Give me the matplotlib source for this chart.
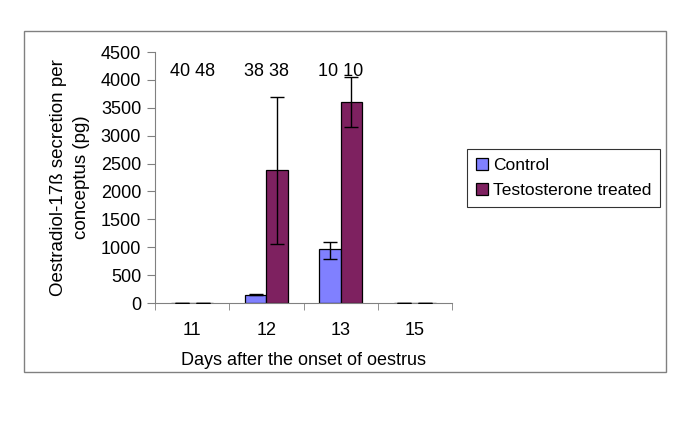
import numpy as np
import matplotlib.pyplot as plt
from matplotlib.patches import Rectangle

plt.rcParams['font.family'] = ['Liberation Sans', 'DejaVu Sans']

days = ['11', '12', '13', '15']
control = [0, 150, 960, 0]
control_err_lo = [0, 15, 170, 0]
control_err_hi = [0, 20, 140, 0]
treated = [0, 2380, 3600, 0]
treated_err_lo = [0, 1330, 440, 0]
treated_err_hi = [0, 1320, 450, 0]
n_control = ['40', '38', '10', '']
n_treated = ['48', '38', '10', '']

fs = 13

fig = plt.figure(figsize=(6.85, 4.26), dpi=100)
ax = fig.add_axes([155/685, 1 - 303/426, 297/685, 251/426])

# outer frame round the chart
fig.patches.append(Rectangle((24/685, 1 - 372/426), 642/685, 341/426,
                             transform=fig.transFigure, fill=False,
                             edgecolor='#808080', linewidth=1))

x = np.arange(len(days))
w = 0.285
ax.bar(x - w/2, control, w, color='#8080FF', edgecolor='black', linewidth=0.9,
       label='Control', zorder=2)
ax.bar(x + w/2, treated, w, color='#7E2160', edgecolor='black', linewidth=0.9,
       label='Testosterone treated', zorder=2)
ax.errorbar(x - w/2, control, yerr=[control_err_lo, control_err_hi], fmt='none',
            ecolor='black', elinewidth=1, capsize=5, capthick=1, zorder=3)
ax.errorbar(x + w/2, treated, yerr=[treated_err_lo, treated_err_hi], fmt='none',
            ecolor='black', elinewidth=1, capsize=5, capthick=1, zorder=3)

# sample sizes above the bars
for i in range(len(days)):
    if n_control[i]:
        ax.text(x[i], 4150, n_control[i] + ' ' + n_treated[i],
                ha='center', va='center', fontsize=fs)

ax.set_xlim(-0.5, 3.5)
ax.set_ylim(0, 4500)
ax.set_yticks(np.arange(0, 4501, 500))
ax.set_xticks(x)
ax.set_xticklabels(days)
ax.set_xticks(np.arange(-0.5, 3.6, 1), minor=True)
ax.tick_params(axis='x', which='major', length=0, pad=14, labelsize=fs)
ax.tick_params(axis='x', which='minor', length=5, color='#808080')
ax.tick_params(axis='y', length=6, color='#808080', labelsize=fs, pad=4)

for s in ['top', 'right']:
    ax.spines[s].set_visible(False)
for s in ['left', 'bottom']:
    ax.spines[s].set_color('#808080')

ax.set_ylabel('Oestradiol-17ß secretion per\nconceptus (pg)', fontsize=13.5,
              labelpad=8, linespacing=1.45)
ax.set_xlabel('Days after the onset of oestrus', fontsize=fs, labelpad=9)

leg = ax.legend(loc='center left', bbox_to_anchor=(467/685, 1 - 178/426),
                bbox_transform=fig.transFigure, fontsize=12.5, frameon=True,
                fancybox=False, edgecolor='black', handlelength=0.7,
                handleheight=0.7, handletextpad=0.3, borderpad=0.5,
                labelspacing=0.6, borderaxespad=0)
leg.get_frame().set_linewidth(0.8)

fig.savefig('out.png', dpi=100)
